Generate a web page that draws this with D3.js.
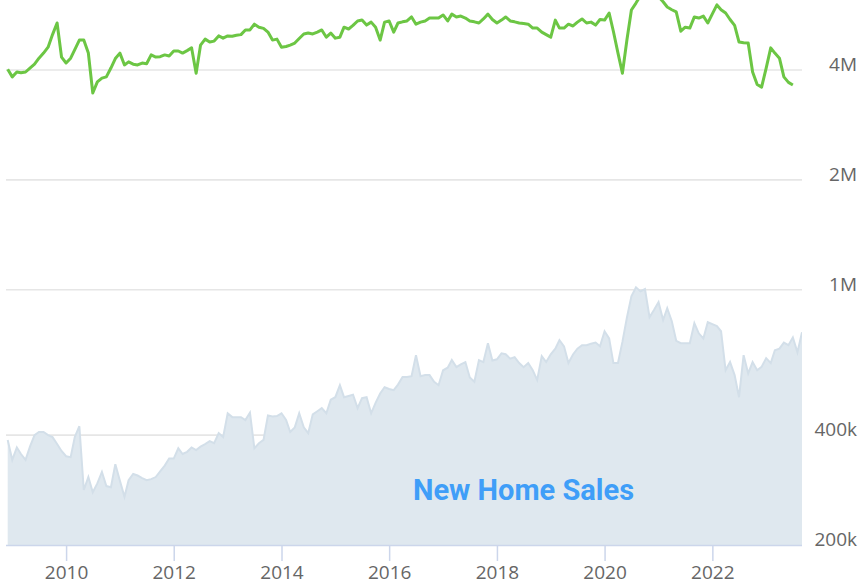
<!DOCTYPE html>
<html>
<head>
<meta charset="utf-8">
<script src="https://cdn.jsdelivr.net/npm/d3@7"></script>
<style>
    body { margin: 0; background: #fff; }
    #chart { width: 859px; height: 586px; overflow: hidden; }
</style>
</head>
<body>
<div id="chart"></div>
<script>
// monthly, Dec 2008 onwards
const firstMonth = new Date(2008, 11, 1);

// new home sales, thousands (SAAR)
const newHomeSales = [
    388,
    342, 370, 355, 342, 372, 400, 408, 408, 400, 395, 378, 362,
    350, 348, 395, 423, 283, 307, 279, 295, 317, 290, 288, 333,
    300, 271, 301, 313, 310, 305, 301, 303, 307, 318, 330, 345,
    345, 368, 355, 360, 370, 364, 372, 378, 385, 380, 405, 395,
    459, 448, 448, 448, 440, 461, 368, 380, 388, 453, 450, 451,
    459, 440, 408, 420, 459, 420, 405, 456, 465, 474, 459, 500,
    508, 548, 508, 512, 516, 474, 505, 508, 459, 490, 520, 541,
    535, 531, 550, 577, 577, 580, 662, 580, 584, 584, 560, 548,
    602, 612, 642, 614, 625, 634, 575, 560, 642, 634, 714, 640,
    645, 670, 666, 648, 654, 630, 614, 630, 602, 566, 658, 634,
    666, 690, 728, 700, 630, 665, 690, 705, 705, 712, 717, 700,
    770, 736, 630, 630, 720, 841, 960, 1016, 990, 1005, 841, 880,
    925, 826, 890, 820, 725, 714, 714, 714, 810, 760, 736, 815,
    805, 795, 770, 602, 634, 584, 508, 662, 590, 634, 602, 615,
    650, 630, 683, 690, 717, 705, 740, 674, 765
];

// existing home sales, millions (SAAR)
const existingHomeSales = [
    4.02,
    3.83, 3.95, 3.93, 3.95, 4.05, 4.15, 4.31, 4.45, 4.62, 5.00, 5.38, 4.34,
    4.18, 4.31, 4.55, 4.83, 4.83, 4.45, 3.46, 3.71, 3.80, 3.83, 4.05, 4.30,
    4.45, 4.13, 4.21, 4.15, 4.13, 4.18, 4.16, 4.40, 4.34, 4.35, 4.40, 4.37,
    4.51, 4.51, 4.45, 4.52, 4.60, 3.92, 4.68, 4.86, 4.77, 4.80, 4.96, 4.89,
    4.96, 4.95, 4.98, 5.00, 5.15, 5.15, 5.34, 5.24, 5.20, 5.08, 4.83, 4.86,
    4.62, 4.64, 4.68, 4.74, 4.88, 5.02, 5.05, 5.02, 5.08, 5.15, 4.92, 5.05,
    4.89, 4.92, 5.24, 5.18, 5.30, 5.45, 5.48, 5.31, 5.41, 5.24, 4.83, 5.41,
    5.45, 5.08, 5.38, 5.42, 5.45, 5.59, 5.34, 5.41, 5.45, 5.55, 5.55, 5.55,
    5.66, 5.45, 5.69, 5.59, 5.62, 5.55, 5.45, 5.42, 5.38, 5.52, 5.69, 5.50,
    5.38, 5.48, 5.59, 5.45, 5.42, 5.38, 5.36, 5.34, 5.21, 5.21, 5.08, 5.00,
    4.92, 5.48, 5.21, 5.21, 5.34, 5.28, 5.41, 5.52, 5.38, 5.41, 5.31, 5.50,
    5.48, 5.73, 5.10, 4.45, 3.92, 4.85, 5.84, 6.10, 6.40, 6.60, 6.55, 6.50,
    6.35, 6.15, 5.95, 5.85, 5.77, 5.11, 5.24, 5.21, 5.59, 5.55, 5.62, 5.38,
    5.70, 6.03, 5.85, 5.73, 5.50, 5.30, 4.77, 4.75, 4.74, 3.95, 3.65, 3.59,
    4.05, 4.60, 4.45, 4.31, 3.83, 3.70, 3.64
];

const yTicks = [200000, 400000, 1000000, 2000000, 4000000];
const yTickLabels = ["200k", "400k", "1M", "2M", "4M"];
const xTickYears = [2010, 2012, 2014, 2016, 2018, 2020, 2022];

class SalesChart {
    constructor() {
        this.width = 859;
        this.height = 586;
        this.plot = { left: 6, right: 802, top: 0, bottom: 545 };

        this.svg = d3.select("#chart").append("svg")
            .attr("width", this.width)
            .attr("height", this.height);

        const months = newHomeSales.map((d, i) => d3.timeMonth.offset(firstMonth, i));
        this.newData = newHomeSales.map((v, i) => ({ date: months[i], value: v * 1000 }));
        this.existingData = existingHomeSales.map((v, i) => ({ date: months[i], value: v * 1e6 }));

        this.x = d3.scaleTime()
            .domain([months[0], months[months.length - 1]])
            .range([7.7, this.plot.right]);

        this.y = d3.scaleLog()
            .domain([200000, 4000000])
            .range([this.plot.bottom, 70]);
    }

    render() {
        const svg = this.svg, x = this.x, y = this.y, p = this.plot;

        svg.append("defs").append("clipPath").attr("id", "plot-clip")
            .append("rect")
            .attr("x", p.left).attr("y", p.top)
            .attr("width", p.right - p.left).attr("height", p.bottom - p.top);

        // gridlines + right labels
        const yAxis = svg.append("g")
            .attr("transform", `translate(${p.right}, 0)`)
            .call(d3.axisRight(y)
                .tickValues(yTicks)
                .tickSize(0)
                .tickFormat((d, i) => yTickLabels[i]));
        yAxis.select(".domain").remove();
        yAxis.selectAll(".tick text")
            .attr("x", 55)
            .attr("dy", "0.02em")
            .attr("text-anchor", "end")
            .style("font-family", "'Open Sans', sans-serif")
            .style("font-size", "19px")
            .attr("fill", "#666666");

        svg.append("g").selectAll("line")
            .data(yTicks.slice(1))
            .join("line")
            .attr("x1", p.left).attr("x2", p.right)
            .attr("y1", d => y(d)).attr("y2", d => y(d))
            .attr("stroke", "#e6e6e6")
            .attr("stroke-width", 1.6);

        const plotG = svg.append("g").attr("clip-path", "url(#plot-clip)");

        const area = d3.area()
            .x(d => x(d.date))
            .y0(p.bottom)
            .y1(d => y(d.value));

        plotG.append("path")
            .datum(this.newData)
            .attr("d", area)
            .attr("fill", "#dfe8ef");

        plotG.append("path")
            .datum(this.newData)
            .attr("d", d3.line().x(d => x(d.date)).y(d => y(d.value)))
            .attr("fill", "none")
            .attr("stroke", "#d3dfe9")
            .attr("stroke-width", 2);

        plotG.append("path")
            .datum(this.existingData)
            .attr("d", d3.line().x(d => x(d.date)).y(d => y(d.value)))
            .attr("fill", "none")
            .attr("stroke", "#6cc644")
            .attr("stroke-width", 3)
            .attr("stroke-linejoin", "round");

        // x axis
        const xAxis = svg.append("g")
            .attr("transform", `translate(0, ${p.bottom})`)
            .call(d3.axisBottom(x)
                .tickValues(xTickYears.map(yr => new Date(yr, 0, 1)))
                .tickFormat(d3.timeFormat("%Y"))
                .tickSize(16)
                .tickPadding(5));
        xAxis.select(".domain")
            .attr("d", `M${p.left},0.5H${p.right}`)
            .attr("stroke", "#ccd6eb")
            .attr("stroke-width", 1.5);
        xAxis.selectAll(".tick line")
            .attr("stroke", "#ccd6eb")
            .attr("stroke-width", 1.5);
        xAxis.selectAll(".tick text")
            .style("font-family", "'Open Sans', sans-serif")
            .style("font-size", "19px")
            .attr("fill", "#666666");

        svg.append("text")
            .attr("x", 523.5)
            .attr("y", 500)
            .attr("text-anchor", "middle")
            .style("font-family", "Roboto, sans-serif")
            .style("font-weight", "bold")
            .style("font-size", "29px")
            .attr("fill", "#3f9ef8")
            .text("New Home Sales");
    }
}

const chart = new SalesChart();
chart.render();
</script>
</body>
</html>
